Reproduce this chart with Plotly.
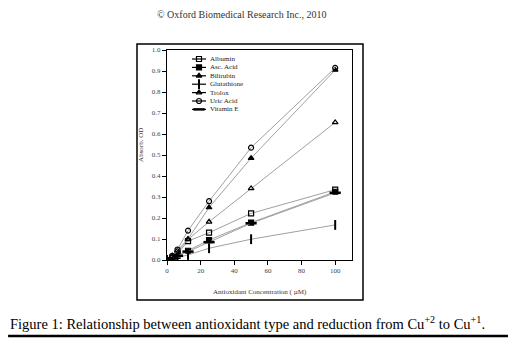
import plotly.graph_objects as go

# ---- data ----
concentration = [0, 3.125, 6.25, 12.5, 25, 50, 100]
series_names = ["Albumin", "Asc. Acid", "Bilirubin", "Glutathione", "Trolox", "Uric Acid", "Vitamin E"]
albumin     = [0.0, 0.010, 0.030, 0.090, 0.130, 0.222, 0.335]
asc_acid    = [0.0, 0.008, 0.020, 0.044, 0.095, 0.178, 0.325]
bilirubin   = [0.0, 0.020, 0.045, 0.100, 0.250, 0.485, 0.905]
glutathione = [0.0, 0.005, 0.012, 0.024, 0.056, 0.099, 0.167]
trolox      = [0.0, 0.015, 0.040, 0.098, 0.182, 0.341, 0.655]
uric_acid   = [0.0, 0.020, 0.050, 0.140, 0.280, 0.535, 0.915]
vitamin_e   = [0.0, 0.008, 0.020, 0.040, 0.085, 0.175, 0.320]
y_ticks = [0.0, 0.1, 0.2, 0.3, 0.4, 0.5, 0.6, 0.7, 0.8, 0.9, 1.0]
x_ticks = [0, 20, 40, 60, 80, 100]

values = [albumin, asc_acid, bilirubin, glutathione, trolox, uric_acid, vitamin_e]
symbols = ["square-open", "square", "triangle-up", "line-ns-open", "triangle-up-open",
           "circle-open", "line-ew-open"]
sizes = [5, 5, 5, 7, 5, 5, 8]
widths = [1.2, 1.2, 1.2, 2.0, 1.2, 1.2, 2.5]

SERIF = "Liberation Serif, Times New Roman, serif"

fig = go.Figure()
for name, vals, sym, sz, lw in zip(series_names, values, symbols, sizes, widths):
    fig.add_trace(go.Scatter(
        x=concentration, y=vals, mode="lines+markers", name=name, showlegend=False,
        line=dict(color="#a0a0a0", width=1),
        marker=dict(symbol=sym, size=sz, color="black", line=dict(color="black", width=lw)),
    ))

# manual compact legend on an overlay pixel-like axis
L_Y0, L_STEP = 9, 8.4
for i, (name, sym, sz, lw) in enumerate(zip(series_names, symbols, sizes, widths)):
    yy = L_Y0 + L_STEP * i
    fig.add_trace(go.Scatter(
        x=[25, 32, 39], y=[yy, yy, yy], xaxis="x2", yaxis="y2", mode="lines",
        line=dict(color="black", width=1.2), showlegend=False, hoverinfo="skip"))
    fig.add_trace(go.Scatter(
        x=[32], y=[yy], xaxis="x2", yaxis="y2", mode="markers",
        marker=dict(symbol=sym, size=sz, color="black", line=dict(color="black", width=lw)),
        showlegend=False, hoverinfo="skip"))
    fig.add_annotation(x=41, y=yy, xref="x2", yref="y2", text=name, showarrow=False,
                       xanchor="left", yanchor="middle",
                       font=dict(family=SERIF, size=7, color="#222"))

axis_font = dict(family=SERIF, size=7, color="#444")
# note: the page body adds an 8px offset, so margins are shifted by 8px
fig.update_layout(
    width=523, height=355,
    margin=dict(l=159, r=179, t=42, b=103),
    paper_bgcolor="white", plot_bgcolor="white",
    showlegend=False,
    xaxis=dict(range=[0, 110], tickvals=x_ticks, ticks="outside", ticklen=4, tickwidth=1,
               tickcolor="black", showline=True, linecolor="black", linewidth=1, mirror=True,
               showgrid=False, zeroline=False, tickfont=axis_font),
    yaxis=dict(range=[0, 1.0], tickvals=y_ticks, tickformat=".1f", ticks="outside", ticklen=4,
               tickwidth=1, tickcolor="black", showline=True, linecolor="black", linewidth=1,
               mirror=True, showgrid=False, zeroline=False, tickfont=axis_font),
    xaxis2=dict(overlaying="x", anchor="y2", range=[0, 185], visible=False),
    yaxis2=dict(overlaying="y", anchor="x2", range=[210, 0], visible=False),
)

# outer frame and caption rule
fig.add_shape(type="rect", xref="paper", yref="paper", x0=-0.1622, x1=1.0595,
              y0=-0.1905, y1=1.0286, line=dict(color="black", width=1.5))
fig.add_shape(type="line", xref="paper", yref="paper", x0=-0.859, x1=1.843,
              y0=-0.362, y1=-0.362, line=dict(color="black", width=2.5))

fig.add_annotation(x=0.405, y=1.171, xref="paper", yref="paper", showarrow=False,
                   xanchor="center", yanchor="middle",
                   text="© Oxford Biomedical Research Inc., 2010",
                   font=dict(family=SERIF, size=10, color="#333"))
fig.add_annotation(x=0.503, y=-0.152, xref="paper", yref="paper", showarrow=False,
                   xanchor="center", yanchor="middle",
                   text="Antioxidant Concentration ( µM)",
                   font=dict(family=SERIF, size=7, color="#333"))
fig.add_annotation(x=-0.1405, y=0.548, xref="paper", yref="paper", showarrow=False,
                   xanchor="center", yanchor="middle",
                   text="Absorb. OD", textangle=-90,
                   font=dict(family=SERIF, size=7, color="#333"))
fig.add_annotation(x=-0.86, y=-0.3, xref="paper", yref="paper", showarrow=False,
                   xanchor="left", yanchor="middle",
                   text="Figure 1: Relationship between antioxidant type and reduction from Cu<sup>+2</sup> to Cu<sup>+1</sup>.",
                   font=dict(family=SERIF, size=14.5, color="black"))

fig.write_html("out.html")
